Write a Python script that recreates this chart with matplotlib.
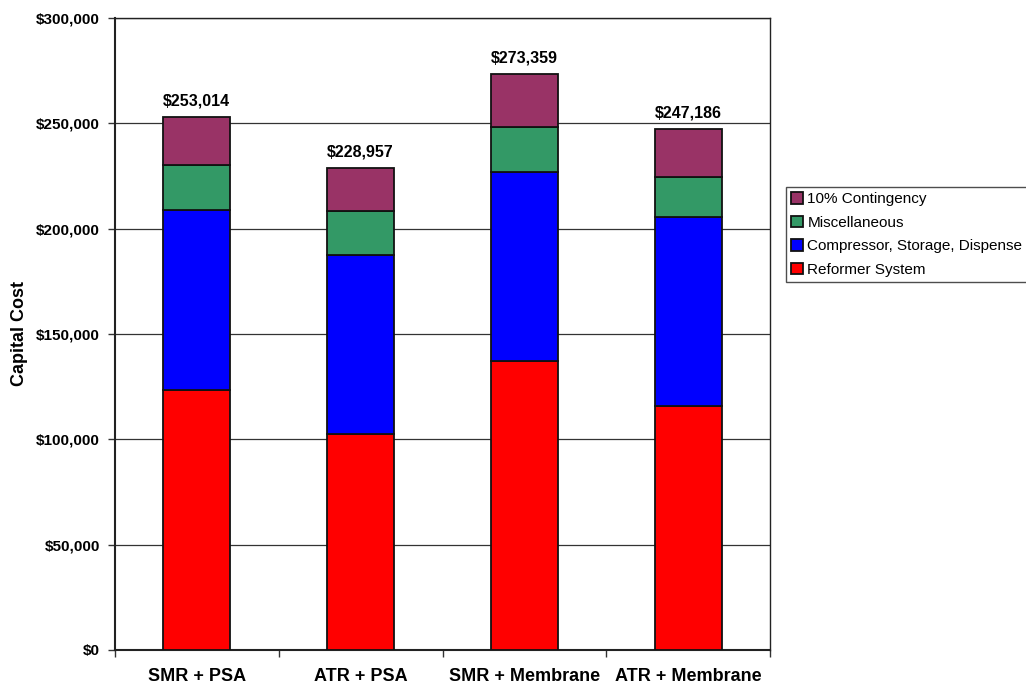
import matplotlib
matplotlib.use("Agg")
import matplotlib.pyplot as plt
from matplotlib.ticker import FuncFormatter, FixedLocator
import numpy as np

categories = ["SMR + PSA", "ATR + PSA", "SMR + Membrane", "ATR + Membrane"]
reformer = [123400, 102400, 137200, 115800]
compressor = [85300, 85200, 89500, 89700]
misc = [21300, 20600, 21700, 19100]
totals = [253014, 228957, 273359, 247186]
contingency = [t - (r + c + m) for t, r, c, m in zip(totals, reformer, compressor, misc)]
total_labels = ["$253,014", "$228,957", "$273,359", "$247,186"]

series_names = ["Reformer System", "Compressor, Storage, Dispense", "Miscellaneous", "10% Contingency"]
colors = ["#FF0000", "#0000FF", "#339966", "#993366"]

plt.rcParams['font.family'] = ['Liberation Sans', 'DejaVu Sans']

fig = plt.figure(figsize=(10.26, 6.85), dpi=100)
ax = fig.add_axes([115/1026, 35/685, 655/1026, 632/685])

x = np.arange(len(categories))
w = 0.41
bottom = np.zeros(len(categories))
handles = []
for vals, name, col in zip([reformer, compressor, misc, contingency], series_names, colors):
    b = ax.bar(x, vals, w, bottom=bottom, color=col, edgecolor="#111111", linewidth=1.3, label=name, zorder=3)
    handles.append(b)
    bottom += np.array(vals)

for xi, top, lab in zip(x, bottom, total_labels):
    ax.annotate(lab, (xi, top), xytext=(0, 6), textcoords="offset points",
                ha="center", va="bottom", fontsize=11.5, fontweight="bold")

ax.set_xlim(-0.5, 3.5)
ax.set_ylim(0, 300000)
ax.set_yticks(np.arange(0, 300001, 50000))
ax.yaxis.set_major_formatter(FuncFormatter(lambda v, p: "${:,.0f}".format(v)))
ax.grid(axis="y", color="#333333", linewidth=0.9, zorder=0)
ax.set_xticks(x)
ax.set_xticklabels(categories, fontsize=13, fontweight="bold")
ax.xaxis.set_minor_locator(FixedLocator(np.arange(-0.5, 3.6, 1.0)))
ax.tick_params(axis="x", which="major", length=0, pad=13)
ax.tick_params(axis="x", which="minor", length=5, width=1, color="#333333")
ax.tick_params(axis="y", length=5, width=1, color="#333333", pad=6)
for lab in ax.get_yticklabels():
    lab.set_fontweight("bold")
    lab.set_fontsize(11)
for s in ax.spines.values():
    s.set_color("#222222")
    s.set_linewidth(1.0)
ax.spines["left"].set_linewidth(1.5)
ax.spines["bottom"].set_linewidth(1.5)
ax.set_ylabel("Capital Cost", fontsize=13, fontweight="bold", labelpad=6)

leg = fig.legend(handles[::-1], series_names[::-1], loc="upper left",
                 bbox_to_anchor=(786/1026, 1 - 187/685), fontsize=11,
                 frameon=True, fancybox=False, edgecolor="#222222",
                 handlelength=0.75, handleheight=0.75, handletextpad=0.3,
                 labelspacing=0.62, borderpad=0.35, borderaxespad=0)
leg.get_frame().set_linewidth(1.0)

fig.savefig("out.png", dpi=100)
